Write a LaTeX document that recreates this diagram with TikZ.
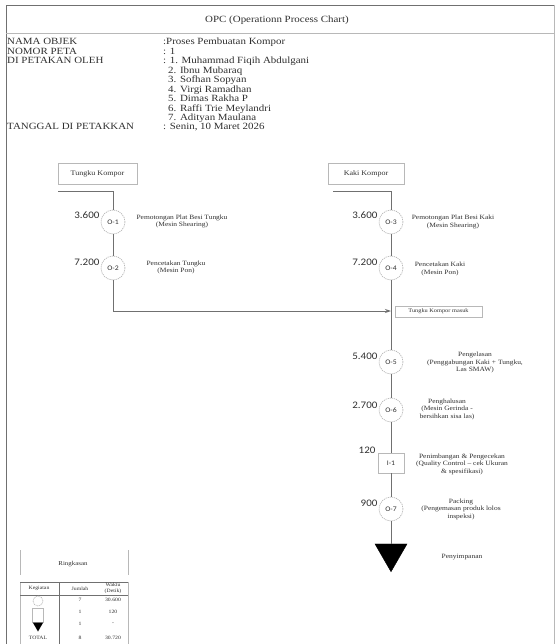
\documentclass[tikz,border=0pt]{standalone}
\usepackage{fontspec}
\setmainfont{Liberation Serif}[FakeStretch=1.15]
\newfontfamily\numfont{Carlito}[FakeStretch=1.1]
\usetikzlibrary{arrows.meta,shapes.geometric}
\definecolor{ln}{HTML}{707070}
\definecolor{lt}{HTML}{B8B8B8}
\definecolor{tx}{HTML}{303030}
\tikzset{
  flow/.style={draw=ln, line width=1pt},
  frame/.style={draw=ln, line width=0.8pt},
  light/.style={draw=lt, line width=0.7pt},
  hdr/.style={anchor=base west, inner sep=0pt, text=tx, font=\fontsize{9.5}{10}\selectfont},
  opc/.style={circle, draw=lt, line width=0.7pt, dash pattern=on 1.2pt off 0.9pt, minimum size=24pt, inner sep=0pt, text=tx, font=\numfont\fontsize{7}{8}\selectfont},
  insp/.style={rectangle, draw=lt, line width=0.8pt, minimum width=26pt, minimum height=20pt, inner sep=0pt, text=tx, font=\numfont\fontsize{7}{8}\selectfont},
  storage/.style={regular polygon, regular polygon sides=3, shape border rotate=180, fill=black, draw=black, minimum size=37pt, inner sep=0pt},
  num/.style={anchor=east, inner sep=0pt, text=tx, font=\numfont\fontsize{10}{11}\selectfont},
  desc/.style={align=center, inner sep=0pt, text=tx, font=\fontsize{6.5}{7.5}\selectfont},
  matbox/.style={draw=lt, line width=0.8pt, minimum height=21pt, inner sep=0pt, text=tx, font=\fontsize{7}{8}\selectfont},
  tbl/.style={inner sep=0pt, text=tx, font=\fontsize{5}{5.5}\selectfont, align=center},
}
\begin{document}
\begin{tikzpicture}[x=1pt,y=-1pt]
\useasboundingbox (0,0) rectangle (555,644);
\fill[white] (0,0) rectangle (555,644);
% frame
\draw[frame] (6,644) -- (6,5) -- (554,5);
\draw[light] (554,5) -- (554,644);
\draw[light] (6,33) -- (554,33);
\node[text=tx, font=\fontsize{9.5}{11}\selectfont] (title) at (277,20) {OPC (Operationn Process Chart)};
% header
\node[hdr] (h1) at (7,45) {NAMA OBJEK};
\node[hdr] (h2) at (7,54.5) {NOMOR PETA};
\node[hdr] (h3) at (7,64) {DI PETAKAN OLEH};
\node[hdr] (h4) at (7,130) {TANGGAL DI PETAKKAN};
\node[hdr] (v1) at (163,45) {:Proses Pembuatan Kompor};
\node[hdr] (v2) at (163,54.5) {: 1};
\node[hdr] (v3) at (163,64) {: 1. Muhammad Fiqih Abdulgani};
\node[hdr] (v4) at (168,73.5) {2. Ibnu Mubaraq};
\node[hdr] (v5) at (168,83) {3. Sofhan Sopyan};
\node[hdr] (v6) at (168,92.5) {4. Virgi Ramadhan};
\node[hdr] (v7) at (168,102) {5. Dimas Rakha P};
\node[hdr] (v8) at (168,111.5) {6. Raffi Trie Meylandri};
\node[hdr] (v9) at (168,121) {7. Adityan Maulana};
\node[hdr] (v10) at (163,130) {: Senin, 10 Maret 2026};
% materials
\node[matbox, minimum width=79pt] (tk) at (97.5,173.5) {Tungku Kompor};
\node[matbox, minimum width=76pt] (kk) at (366,173.5) {Kaki Kompor};
\coordinate (tkL) at (58,192);
\coordinate (tkR) at (113,192);
\coordinate (kkL) at (333,192);
\coordinate (kkR) at (391,192);
% symbols
\node[opc] (o1) at (113,222) {O-1};
\node[opc] (o2) at (113,268) {O-2};
\node[opc] (o3) at (391,222) {O-3};
\node[opc] (o4) at (391,268) {O-4};
\node[opc] (o5) at (391,362) {O-5};
\node[opc] (o6) at (391,410) {O-6};
\node[insp] (i1) at (391,463) {I-1};
\node[opc] (o7) at (391,509) {O-7};
\node[storage] (st) at (391,553.2) {};
\coordinate (lc) at (113,311);
\coordinate (rc) at (391,311);
% connectors
\draw[flow] (tkL) -- (tkR) -- (o1);
\draw[flow] (o1) -- (o2);
\draw[flow, -{Stealth[length=6pt,width=4pt]}] (o2) -- (lc) -- (rc);
\draw[flow] (kkL) -- (kkR) -- (o3);
\draw[flow] (o3) -- (o4);
\draw[flow] (o4) -- (o5);
\draw[flow] (o5) -- (o6);
\draw[flow] (o6) -- (i1);
\draw[flow] (i1) -- (o7);
\draw[flow] (o7) -- (st);
\node[matbox, minimum width=87pt, minimum height=11pt, font=\fontsize{5.5}{6}\selectfont] (masuk) at (438.5,311.5) {Tungku Kompor masuk};
% numbers
\node[num] (n1) at ([xshift=-1pt,yshift=7pt]o1.west) {3.600};
\node[num] (n2) at ([xshift=-1pt,yshift=6pt]o2.west) {7.200};
\node[num] (n3) at ([xshift=-1pt,yshift=7pt]o3.west) {3.600};
\node[num] (n4) at ([xshift=-1pt,yshift=6pt]o4.west) {7.200};
\node[num] (n5) at ([xshift=-1pt,yshift=6pt]o5.west) {5.400};
\node[num] (n6) at ([xshift=-1pt,yshift=5pt]o6.west) {2.700};
\node[num] (n7) at ([xshift=-2pt,yshift=13pt]i1.west) {120};
\node[num] (n8) at ([xshift=-1pt,yshift=6pt]o7.west) {900};
% descriptions
\node[desc] (d1) at (182,221.5) {Pemotongan Plat Besi Tungku\\(Mesin Shearing)};
\node[desc] (d2) at (176,267.5) {Pencetakan Tungku\\(Mesin Pon)};
\node[desc] (d3) at (453,222) {Pemotongan Plat Besi Kaki\\(Mesin Shearing)};
\node[desc] (d4) at (440,269) {Pencetakan Kaki\\(Mesin Pon)};
\node[desc] (d5) at (475,362.5) {Pengelasan\\(Penggabungan Kaki + Tungku,\\Las SMAW)};
\node[desc] (d6) at (447,409) {Penghalusan\\(Mesin Gerinda -\\bersihkan sisa las)};
\node[desc] (d7) at (462,464) {Penimbangan \& Pengecekan\\(Quality Control -- cek Ukuran\\\& spesifikasi)};
\node[desc] (d8) at (461,509) {Packing\\(Pengemasan produk lolos\\inspeksi)};
\node[desc] (d9) at (462,557) {Penyimpanan};
% summary
\draw[light] (20,550) -- (20,575);
\draw[light] (128,550) -- (128,575);
\node[tbl, font=\fontsize{6}{7}\selectfont] (rk) at (73,564) {Ringkasan};
\draw[light] (20,644) -- (20,582) -- (128,582) -- (128,644);
\draw[draw=ln, line width=0.8pt] (20,582) -- (128,582);
\draw[draw=ln, line width=0.6pt] (20,595) -- (128,595);
\draw[draw=ln, line width=0.8pt] (59,582) -- (59,644);
\node[tbl] (k1) at (39,588.5) {Kegiatan};
\node[tbl] (k2) at (80,588.5) {Jumlah};
\node[tbl] (k3) at (113,588.5) {Waktu\\(Detik)};
\node[circle, draw=lt, line width=0.6pt, dash pattern=on 1pt off 0.7pt, minimum size=10pt, inner sep=0pt] (s1) at (38,601) {};
\node[rectangle, draw=lt, line width=0.6pt, minimum width=11pt, minimum height=14pt, inner sep=0pt] (s2) at (38,615) {};
\node[regular polygon, regular polygon sides=3, shape border rotate=180, fill=black, minimum size=12pt, inner sep=0pt] (s3) at (38,625.5) {};
\node[tbl] (t1) at (38,638) {TOTAL};
\node[tbl] (c1) at (80,600) {7};
\node[tbl] (c2) at (80,612) {1};
\node[tbl] (c3) at (80,624) {1};
\node[tbl] (c4) at (80,638) {8};
\node[tbl] (w1) at (113,600) {30.600};
\node[tbl] (w2) at (113,612) {120};
\node[tbl] (w3) at (113,624) {-};
\node[tbl] (w4) at (113,638) {30.720};
\end{tikzpicture}
\end{document}
